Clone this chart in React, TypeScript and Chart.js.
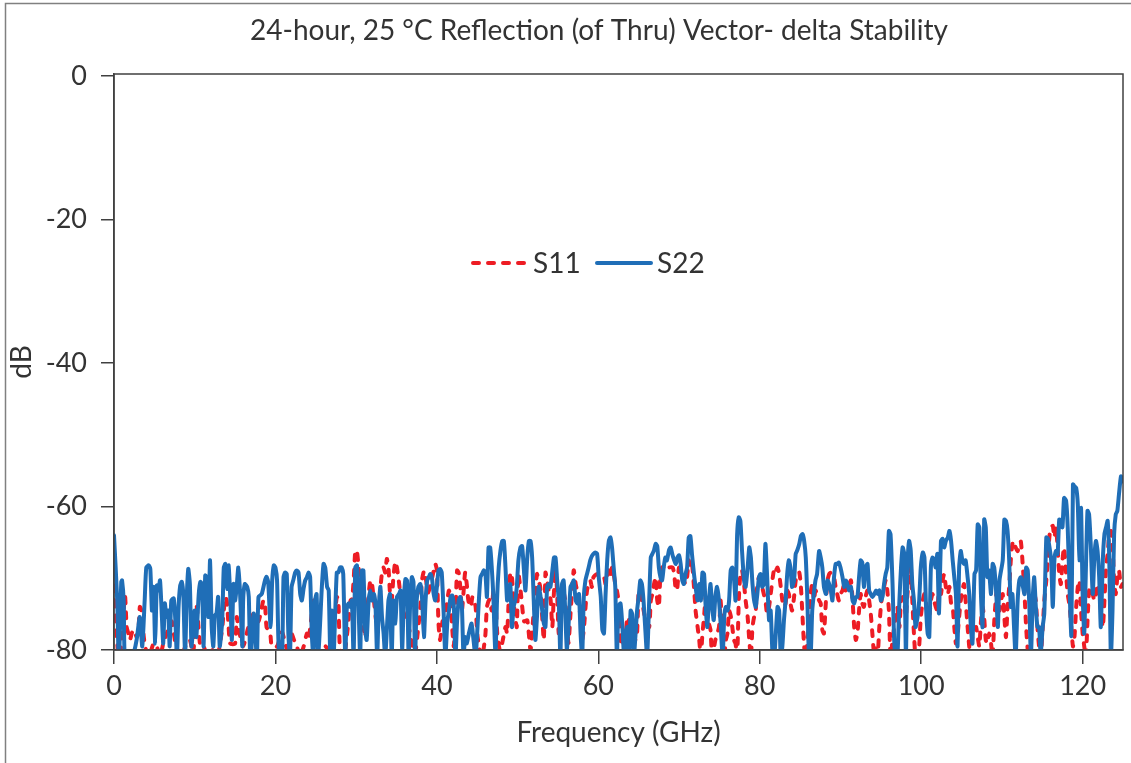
import React, { useEffect, useRef } from "react";
import { Chart, registerables } from "chart.js";

Chart.register(...registerables);

const FONT = "Lato, 'Open Sans', sans-serif";
const TITLE = "24-hour, 25 °C Reflection (of Thru) Vector- delta Stability";
const X_TITLE = "Frequency (GHz)";
const Y_TITLE = "dB";
const X_TICKS = [0, 20, 40, 60, 80, 100, 120];
const Y_TICKS = [-80, -60, -40, -20, 0];
const SERIES_NAMES = ["S11", "S22"];

// S22 (blue, solid)
const s22Freq = [
  0.0, 0.4, 0.6, 0.9, 1.0, 1.2, 1.4, 2.4, 2.8, 3.2, 3.5, 3.8, 4.0, 4.3, 4.5, 4.7, 4.9, 5.1, 5.3, 5.5, 5.7, 5.9, 6.1, 6.3, 6.5, 6.7, 6.9, 7.1, 7.4, 7.6, 7.8, 8.0, 8.2, 8.4, 8.6, 8.8, 9.0, 9.2, 9.4, 9.6, 9.8, 10.0, 10.2, 10.5, 10.7, 10.9, 11.1, 11.3, 11.5, 11.7, 11.9, 12.1, 12.3, 12.5, 12.7, 12.9, 13.1, 13.4, 13.6, 13.8, 14.0, 14.2, 14.4, 14.6, 14.8, 15.0, 15.2, 15.4, 15.6, 15.9, 16.0, 16.2, 16.5, 16.7, 16.9, 17.3, 17.7, 17.9, 18.3, 18.7, 18.9, 19.1, 19.4, 19.6, 19.8, 20.0, 20.2, 20.4,
  20.8, 21.0, 21.2, 21.4, 21.6, 21.8, 22.0, 22.2, 22.45, 22.65, 22.86, 23.07, 23.27, 23.48, 23.69, 23.9, 24.1, 24.3, 24.5, 24.7, 24.9, 25.1, 25.3, 25.75, 25.96, 26.17, 26.4, 26.6, 26.8, 27.0, 27.2, 27.4, 27.6, 27.8, 28.0, 28.2, 28.4, 28.65, 28.85, 29.06, 29.27, 29.47, 29.68, 29.89, 30.1, 30.3, 30.5, 30.7, 30.9, 31.1, 31.3, 31.55, 31.75, 31.96, 32.2, 32.4, 32.6, 32.8, 33.0, 33.2, 33.4, 33.6, 34.0, 34.2, 34.4, 34.6, 34.85, 35.05, 35.3, 35.5, 35.7, 35.9, 36.1, 36.3, 36.5, 36.7, 36.9, 37.1, 37.3, 37.5, 37.7, 37.95, 38.15, 38.4, 38.6, 38.8, 39.0, 39.2, 39.4, 39.6, 39.8, 40.0, 40.2, 40.4, 40.6, 40.84,
  41.05, 41.3, 41.5, 41.7, 41.9, 42.1, 42.3, 42.5, 42.7, 42.9, 43.1, 43.3, 43.5, 43.7, 44.0, 44.3, 44.5, 44.8, 45.2, 45.4, 45.6, 45.8, 46.0, 46.2, 46.4, 46.6, 46.8, 47.0, 47.25, 47.45, 47.66, 47.87, 48.1, 48.3, 48.5, 48.7, 48.9, 49.1, 49.3, 49.5, 49.7, 49.9, 50.1, 50.35, 50.56, 50.76, 50.97, 51.2, 51.4, 51.6, 51.8, 52.0, 52.2, 52.4, 52.6, 52.8, 53.0, 53.25, 53.45, 53.66, 53.87, 54.07, 54.5, 54.7, 54.9, 55.1, 55.3, 55.5, 55.7, 55.9, 56.1, 56.3, 56.55, 56.75, 56.95, 57.2, 57.4, 57.6, 57.8, 58.0, 58.2, 58.4, 58.6, 58.8, 59.0, 59.2, 59.4, 59.6, 59.85, 60.05, 60.3, 60.5, 60.7, 60.9, 61.1, 61.3, 61.5,
  61.7, 61.9, 62.1, 62.3, 62.5, 62.75, 62.96, 63.2, 63.4, 63.6, 63.8, 64.0, 64.2, 64.4, 64.6, 64.8, 65.0, 65.2, 65.4, 65.6, 65.85, 66.05, 66.3, 66.5, 66.7, 66.9, 67.1, 67.3, 67.5, 67.7, 67.9, 68.1, 68.3, 68.5, 68.75, 68.96, 69.2, 69.4, 69.6, 69.8, 70.0, 70.2, 70.4, 70.6, 70.8, 71.0, 71.2, 71.4, 71.6, 71.85, 72.05, 72.3, 72.5, 72.7, 72.9, 73.1, 73.3, 73.5, 73.7, 73.9, 74.1, 74.3, 74.5, 74.7, 74.95, 75.15, 75.4, 75.6, 75.8, 76.0, 76.2, 76.4, 76.6, 76.8, 77.0, 77.2, 77.4, 77.6, 77.8, 78.05, 78.25, 78.5, 78.7, 78.9, 79.1, 79.3, 79.5, 79.7, 79.9, 80.1, 80.3, 80.5, 80.7, 80.9, 81.15, 81.35, 81.6, 81.8,
  82.2, 82.4, 82.6, 82.8, 83.0, 83.2, 83.4, 83.6, 83.8, 84.0, 84.25, 84.45, 84.65, 84.9, 85.1, 85.3, 85.5, 85.7, 85.9, 86.1, 86.3, 86.5, 86.7, 86.9, 87.1, 87.35, 87.55, 87.75, 87.95, 88.2, 88.4, 88.6, 88.8, 89.0, 89.2, 89.4, 89.6, 89.8, 90.0, 90.25, 90.45, 90.65, 90.85, 91.05, 91.3, 91.5, 91.7, 91.9, 92.1, 92.3, 92.5, 92.7, 92.9, 93.1, 93.35, 93.55, 93.75, 93.95, 94.2, 94.4, 94.6, 94.8, 95.0, 95.2, 95.4, 95.6, 95.8, 96.0, 96.2, 96.45, 96.65, 96.85, 97.05, 97.3, 97.5, 97.7, 97.9, 98.1, 98.3, 98.5, 98.7, 98.9, 99.1, 99.3, 99.55, 99.75, 99.95, 100.2, 100.4, 100.6, 100.8, 101.0, 101.2, 101.4, 101.6, 101.8, 102.0, 102.2,
  102.45, 102.65, 102.85, 103.05, 103.3, 103.5, 103.7, 103.9, 104.1, 104.3, 104.5, 104.7, 104.9, 105.1, 105.3, 105.5, 105.75, 105.95, 106.15, 106.35, 106.6, 106.8, 107.0, 107.2, 107.4, 107.6, 107.8, 108.0, 108.2, 108.4, 108.65, 108.85, 109.05, 109.3, 109.5, 109.7, 110.1, 110.3, 110.5, 110.7, 110.9, 111.1, 111.3, 111.5, 111.7, 111.95, 112.15, 112.35, 112.6, 112.8, 113.0, 113.2, 113.4, 113.6, 113.8, 114.0, 114.2, 114.4, 114.6, 114.8, 115.05, 115.25, 115.5, 115.7, 115.9, 116.1, 116.3, 116.5, 116.7, 116.9, 117.1, 117.3, 117.5, 117.7, 117.95, 118.15, 118.4, 118.6, 118.8, 119.0, 119.2, 119.4, 119.6, 119.8, 120.0, 120.2, 120.4, 120.6, 120.8, 121.0, 121.25, 121.45, 121.65, 121.85, 122.05, 122.25, 122.5, 122.7, 122.9, 123.1, 123.3, 123.5, 123.7, 123.9, 124.1, 124.3, 124.5, 124.75, 124.95,
];
const s22Db = [
  -64.0, -73.1, -82, -70.5, -70.3, -73.1, -82, -80.5, -78.6, -75.4, -79.5, -73.1, -68.5, -68.2, -68.7, -74.5, -71.2, -79.1, -71.0, -71.7, -70.3, -74.5, -79.1, -73.5, -75.4, -74.5, -79.5, -73.1, -72.8, -75.9, -81, -74.0, -71.0, -70.5, -72.6, -81, -73.1, -68.7, -70.8, -79.5, -76.8, -74.5, -78.2, -72.2, -70.5, -70.8, -79.5, -69.6, -69.9, -75.4, -67.5, -76.8, -79.5, -75.2, -74.9, -72.6, -79.5, -76, -68.5, -68, -71.5, -68.2, -72.6, -78.6, -70.8, -73.1, -71.2, -68.5, -71.7, -79.5, -73.1, -70.8, -71.2, -72.6, -82, -74.9, -81, -72.6, -72.2, -70.3, -69.8, -70.5, -76.8, -70.3, -68.2, -68.5, -70.3, -79.5,
  -82, -69.85, -69.2, -69.4, -77.7, -81, -71.2, -70.3, -69.2, -68.9, -69.2, -72.2, -73.1, -71.5, -70.3, -69.85, -69.2, -69.85, -77.7, -81, -73.1, -72.2, -81, -71.2, -68.0, -68.5, -71.2, -71.7, -81, -74.5, -81, -74.9, -69.2, -69.2, -68.5, -68.5, -69.4, -81, -74.0, -73.5, -74, -73.1, -81, -68.5, -68.2, -74, -81, -68.9, -68.9, -76.8, -78.6, -73.1, -71.7, -73.1, -72.2, -74, -81, -74, -71.2, -75.4, -77.7, -81, -73.1, -72.2, -81, -73.1, -76.3, -72.6, -72.2, -71.7, -80, -73.1, -70.1, -70.3, -81, -73.1, -69.85, -70.5, -81, -73.1, -71.2, -70.8, -72.6, -78.2, -73.1, -70.3, -69.85, -69.4, -70.1, -72.2, -73.1, -71.2, -68.9, -68.7, -69.2, -74.9,
  -81, -76, -74.5, -72.6, -72.4, -74, -81, -76, -73.1, -72.6, -74, -81, -78.2, -79.1, -77.5, -76.3, -78.2, -81, -73.1, -69.85, -69.4, -68.9, -69.2, -72.6, -65.7, -65.7, -68.5, -72.6, -81, -73.1, -68.5, -66.2, -64.8, -64.8, -68.5, -73.1, -71.2, -70.8, -76.8, -74, -73.1, -71.2, -67.5, -65.7, -65.5, -68.5, -71.7, -67.1, -64.8, -64.8, -67.1, -73.1, -78.6, -75.4, -71.2, -72.2, -74, -76.3, -76.8, -71.2, -70.8, -71.2, -67.1, -67.1, -70.3, -73.1, -81, -70.8, -70.3, -74.5, -80, -76.8, -71.2, -70.8, -70.3, -73.1, -73.5, -72.2, -77.7, -81, -72.6, -70.3, -69.4, -68.5, -67.5, -66.9, -66.6, -66.4, -66.6, -69.85, -72.6, -77.2, -77.7, -72.2, -67.5, -64.8, -64.3,
  -65.7, -68.5, -71.2, -81, -74, -73.5, -76.3, -81, -77.7, -76.8, -81, -74.5, -75, -81, -78, -74.5, -72.6, -70.3, -70.8, -73.1, -77.7, -81, -73.1, -67.1, -66.6, -66.1, -65.2, -65.5, -68.5, -69.85, -70.3, -68.5, -67.1, -67.5, -66.1, -65.7, -66.8, -67.5, -68.0, -67.1, -66.8, -68.0, -70.3, -70.8, -69.4, -68.5, -64.3, -64.1, -66.6, -69.4, -71.2, -73.1, -70.8, -73.1, -69.2, -69.4, -74, -76.8, -73.1, -70.8, -74, -75.85, -72.6, -71.2, -73.1, -76.3, -81, -75.4, -74, -74.5, -73.1, -68.9, -68.5, -69.85, -73.1, -63.85, -61.5, -62.0, -66.1, -70.3, -71.2, -68.5, -65.7, -67.1, -70.8, -73.1, -74, -72.2, -69.85, -69.4, -71.2, -70.8, -65.2, -69.4, -75.85, -74.5, -81, -81,
  -74, -74.5, -81, -79.5, -75.8, -73.1, -69.4, -67.5, -68.5, -71.2, -70.3, -66.6, -66.1, -65.2, -64.1, -63.85, -64.8, -67.1, -73.1, -81, -81, -74.5, -72.2, -70.3, -69.4, -66.2, -67.1, -68.5, -71.2, -72.2, -70.3, -70.8, -71.7, -73.1, -69.85, -68.0, -68.0, -67.8, -68.5, -69.85, -71.2, -70.3, -70.8, -71.7, -71.2, -73.1, -73.5, -72.6, -72.6, -69.85, -67.5, -67.8, -71.2, -68.5, -68.0, -71.7, -72.2, -72.6, -72.2, -71.7, -72.2, -71.7, -73.1, -72.6, -70.8, -69.4, -68.5, -63.4, -63.85, -70.8, -78.6, -81, -81, -73.1, -68.5, -65.7, -66.6, -81, -68.5, -64.8, -66.1, -70.8, -73.1, -76.8, -75.4, -73.1, -68.5, -66.4, -67.1, -74, -77.7, -78.2, -68.5, -67.1, -67.5, -68.5, -66.6, -74.9,
  -64.8, -64.5, -65.7, -64.8, -64.3, -63.4, -64.8, -67.5, -69.85, -72.2, -79.5, -68.5, -66.2, -67.5, -68.0, -67.5, -69.85, -72.2, -76.8, -79.1, -69.4, -68.9, -62.5, -62.9, -72.2, -76.8, -61.8, -62.9, -69.85, -68.9, -72.2, -68.0, -68.5, -72.2, -76.8, -70.3, -67.5, -61.8, -62.0, -63.4, -67.5, -74, -72.2, -76.8, -81, -73.1, -70.3, -69.85, -71.2, -72.2, -68.5, -68.9, -74, -81, -73.1, -69.85, -74, -76.8, -76.8, -80.5, -76.8, -74.9, -64.3, -64.5, -65.7, -67.5, -74, -67.5, -66.2, -66.6, -61.8, -62.0, -62.9, -58.8, -59.2, -62.9, -72.2, -78, -56.9, -57.2, -57.4, -59.7, -67.5, -60.2, -72.2, -77.7, -68.9, -60.6, -61.1, -65.2, -72.2, -67.1, -64.8, -66.2, -69.85, -76.8, -67.5, -63.85, -62.9, -62.0, -67.5, -81, -74.5, -63.85, -61.1, -60.6, -58.3, -55.8, -56.5,
];

// S11 (red, dashed)
const s11Freq = [
  0.0, 0.3, 0.6, 1.0, 1.36, 1.57, 1.78, 1.98, 2.19, 2.4, 2.6, 2.8, 3.0, 3.2, 3.4, 3.6, 3.85, 4.3, 4.9, 5.3, 5.7, 6.1, 6.6, 7.15, 7.6, 8.2, 9.0, 9.4, 9.8, 10.25, 10.4, 10.7, 11.1, 11.6, 12.2, 12.8, 13.4, 13.77, 13.97, 14.2, 14.4, 15.0, 15.2, 15.4, 16.0, 16.6, 17.3, 17.9, 18.5, 18.7, 18.9, 19.35, 19.55, 20.2,
  20.8, 21.2, 21.6, 21.8, 22.0, 22.3, 22.6, 23.0, 23.5, 23.9, 24.1, 24.4, 24.7, 24.9, 25.2, 25.6, 26.2, 26.8, 27.3, 27.6, 27.8, 28.0, 28.5, 29.0, 29.3, 29.5, 29.7, 29.9, 30.1, 30.3, 30.5, 30.7, 30.9, 31.1, 31.4, 31.75, 31.96, 32.2, 32.5, 32.8, 33.0, 33.2, 33.4, 33.6, 33.8, 34.0, 34.2, 34.4, 34.6, 34.85, 35.05, 35.3, 35.5, 35.8, 36.1, 36.5, 36.9, 37.3, 37.7, 37.95, 38.15, 38.4, 38.6, 38.9, 39.2, 39.5, 39.8, 40.0, 40.2, 40.4, 40.7,
  40.85, 41.05, 41.3, 41.5, 41.7, 41.9, 42.1, 42.3, 42.5, 42.7, 42.9, 43.1, 43.3, 43.5, 43.7, 43.9, 44.2, 44.4, 44.6, 44.8, 45.0, 45.3, 45.6, 46.0, 46.2, 46.5, 46.8, 47.0, 47.25, 47.5, 47.8, 48.1, 48.5, 48.7, 48.9, 49.1, 49.3, 49.5, 49.7, 49.9, 50.1, 50.4, 50.8, 51.2, 51.6, 51.9, 52.2, 52.4, 52.6, 52.8, 53.0, 53.25, 53.45, 53.66, 53.9, 54.1, 54.3, 54.5, 54.7, 54.9, 55.1, 55.4, 55.5, 55.9, 56.3, 56.55, 56.95, 57.2, 57.6, 58.0, 58.2, 58.6, 59.0, 59.2, 59.4, 59.85, 60.3, 60.7, 60.9, 61.3, 61.5,
  61.7, 61.9, 62.1, 62.3, 62.5, 62.75, 62.96, 63.2, 63.4, 63.6, 63.8, 64.2, 64.6, 64.8, 65.0, 65.2, 65.4, 65.85, 66.3, 66.5, 66.7, 66.9, 67.1, 67.3, 67.5, 67.7, 67.9, 68.1, 68.3, 68.75, 69.2, 69.4, 69.6, 69.8, 70.0, 70.4, 70.6, 70.8, 71.0, 71.2, 71.4, 71.6, 71.85, 72.05, 72.3, 72.5, 72.7, 72.9, 73.1, 73.3, 73.5, 73.7, 73.9, 74.1, 74.5, 74.95, 75.15, 75.4, 75.6, 75.8, 76.0, 76.2, 76.4, 76.6, 76.8, 77.0, 77.2, 77.4, 77.6, 77.8, 78.05, 78.25, 78.5, 78.7, 78.9, 79.1, 79.3, 79.5, 79.7, 79.9, 80.1, 80.3, 80.5, 80.7, 80.9, 81.15, 81.35, 81.8, 82.0,
  82.2, 82.4, 82.6, 82.8, 83.0, 83.2, 83.4, 83.6, 83.8, 84.0, 84.25, 84.45, 84.65, 84.9, 85.1, 85.3, 85.5, 85.7, 85.9, 86.1, 86.3, 86.5, 86.7, 86.9, 87.1, 87.35, 87.55, 87.75, 87.95, 88.2, 88.4, 88.6, 88.8, 89.0, 89.2, 89.4, 89.6, 89.8, 90.0, 90.25, 90.45, 90.65, 90.85, 91.05, 91.3, 91.5, 91.7, 91.9, 92.1, 92.3, 92.5, 92.7, 92.9, 93.1, 93.35, 93.55, 93.75, 93.95, 94.2, 94.4, 94.6, 94.8, 95.0, 95.2, 95.4, 95.6, 95.8, 96.0, 96.2, 96.45, 96.65, 96.85, 97.05, 97.3, 97.5, 97.7, 97.9, 98.1, 98.3, 98.5, 98.7, 98.9, 99.1, 99.3, 99.55, 99.75, 99.95, 100.2, 100.4, 100.6, 100.8, 101.0, 101.2, 101.4, 101.6, 101.8, 102.0, 102.2,
  102.45, 102.65, 102.85, 103.05, 103.3, 103.5, 103.7, 103.9, 104.1, 104.3, 104.5, 104.7, 104.9, 105.1, 105.3, 105.5, 105.75, 105.95, 106.15, 106.35, 106.6, 106.8, 107.0, 107.2, 107.4, 107.6, 107.8, 108.0, 108.2, 108.4, 108.65, 108.85, 109.05, 109.3, 109.5, 109.7, 109.9, 110.1, 110.3, 110.5, 110.7, 110.9, 111.1, 111.3, 111.5, 111.7, 111.95, 112.15, 112.35, 112.6, 112.8, 113.0, 113.2, 113.4, 113.6, 113.8, 114.0, 114.2, 114.4, 114.6, 114.8, 115.05, 115.25, 115.5, 115.7, 115.9, 116.1, 116.3, 116.5, 116.7, 116.9, 117.1, 117.3, 117.5, 117.7, 117.95, 118.15, 118.4, 118.6, 118.8, 119.0, 119.2, 119.4, 119.6, 119.8, 120.0, 120.2, 120.4, 120.6, 120.8, 121.0, 121.25, 121.45, 121.65, 121.85, 122.05, 122.25, 122.5, 122.7, 122.9, 123.1, 123.3, 123.5, 123.7, 123.9, 124.1, 124.3, 124.5, 124.75, 124.95,
];
const s11Db = [
  -71, -77, -82, -78, -72.4, -76.8, -77.7, -78.6, -77.7, -77.2, -77.5, -78.2, -77.7, -74.0, -74.5, -77.2, -79.5, -81, -79.1, -79.5, -81, -79.1, -77.5, -76, -79, -81, -79.1, -78.6, -80.5, -74.0, -75.8, -79.5, -79.5, -81, -80, -81, -77, -72.6, -73.1, -76.8, -79.1, -79.1, -75.4, -76.8, -79.5, -77, -74.9, -76, -73.1, -73.5, -76.8, -77.7, -79.5, -79.5,
  -77.5, -79, -80.5, -78.2, -77.7, -78.6, -79.1, -81, -79.5, -77.7, -78.6, -76, -73.1, -74.5, -79.5, -81, -79.5, -80.5, -76, -72.6, -73.1, -80, -81, -76.5, -73.1, -72.9, -70, -66.1, -66.3, -68.5, -73.5, -77, -76.8, -78.2, -74, -70.3, -70.8, -73.1, -76, -74.5, -71.5, -69.2, -68.5, -69.2, -67.3, -68.5, -72.2, -73.1, -70, -67.7, -68.5, -70.5, -72.5, -74.5, -75.4, -76.8, -79, -80.5, -76.8, -74, -70.3, -69, -69.8, -72, -71, -69.5, -68, -68.9, -76.3, -78.6, -76,
  -77, -75, -73, -71.7, -73.1, -77, -79.5, -75, -68.9, -69.2, -71.2, -74.5, -72, -69.2, -70.8, -73.1, -74, -72.6, -73.1, -74, -77.7, -80, -81, -78, -74, -73, -74.5, -71.7, -73.1, -78, -80, -79, -76.8, -77.7, -73, -69.2, -69.85, -73.1, -75.4, -76.8, -69.4, -72, -76, -75.85, -80, -76, -72, -69.4, -70.3, -71.2, -74.5, -78.6, -69.2, -70.3, -72, -73.1, -76.8, -72, -68.5, -72.2, -77.7, -75, -71, -73.1, -79, -75, -68.9, -70.8, -73.1, -78.6, -77.2, -71.7, -70.3, -71.2, -69.85, -69.4, -69.85, -69.85, -70.8, -68.9, -69.85,
  -68.5, -69.4, -70.8, -71.7, -73.1, -78.6, -79.5, -78.6, -77.7, -75.4, -75.8, -78, -78.6, -77.7, -71.7, -72.2, -73.1, -75.85, -76.8, -73.1, -72.2, -70.8, -69.85, -73.1, -74, -69.4, -68.5, -68.5, -68.9, -68.5, -68.5, -69.4, -71.7, -71.2, -68.5, -69.4, -70.3, -70.8, -69.85, -67.5, -68.5, -68.0, -71.2, -74.5, -76.8, -78.6, -81, -77.7, -75.4, -72.6, -74.5, -76.3, -77.2, -81, -78.6, -76.8, -73.1, -78.6, -81, -78.6, -77.7, -74.5, -75.2, -76.8, -78.6, -79.1, -81, -73.1, -69.4, -68.9, -70.8, -73.1, -75.4, -78.6, -81, -76.8, -75.4, -74.5, -70.8, -69.85, -70.3, -71.2, -72.2, -73.1, -74.9, -74, -72.2, -68.5, -68.9,
  -68.5, -69.4, -71.2, -73.1, -74, -73.5, -71.7, -72.2, -73.5, -74.5, -72.6, -70.3, -69.4, -69.2, -71.2, -75.4, -79.5, -81, -78.6, -76.3, -72.2, -70.8, -73.1, -71.7, -72.2, -73.1, -73.5, -77.2, -77.7, -73.1, -70.3, -69.4, -69.2, -69.4, -69.85, -71.2, -72.2, -73.1, -72.2, -71.7, -70.8, -71.7, -70.3, -70.8, -70.3, -73.1, -76.8, -78.6, -77.7, -74.5, -72.2, -73.5, -74, -72.6, -71.7, -73.1, -74.9, -77.7, -81, -79.5, -81, -77, -74, -72.2, -71.2, -70.3, -71.7, -74.5, -81, -78.6, -76.8, -75.4, -74, -76.8, -73.1, -72.6, -73.1, -75.4, -72.2, -70.3, -68.5, -73.1, -77.7, -81, -81, -79.5, -75.4, -73.1, -72.2, -73.5, -76.3, -75.4, -73.1, -72.2, -73.1, -74, -74.5, -71.7,
  -72.2, -70.3, -69.4, -71.2, -72.2, -71.2, -73.5, -74, -76.8, -79.1, -78, -75.4, -73.1, -71.7, -70.8, -73.1, -76.8, -79.5, -81, -78, -77, -76.8, -78.2, -79.5, -76, -74, -75.5, -78.6, -79.1, -77.7, -79.1, -81, -76, -72.2, -71.2, -74.5, -73.1, -72.2, -75.4, -78.2, -74, -71.2, -67.5, -65.2, -64.8, -65.7, -66.2, -65.2, -64.9, -68.5, -72.2, -76.8, -80, -81, -77.7, -74, -72.2, -73.1, -76.8, -79.5, -81, -77, -73.1, -70.3, -67.1, -64, -62.9, -62.7, -64.3, -62.9, -65.7, -69.4, -70.8, -67.5, -65.7, -69.4, -72.2, -74, -76.8, -79.5, -78, -74, -71.2, -70.3, -74.5, -77.7, -79.5, -81, -76, -71.7, -71.2, -72.2, -73.1, -72.2, -70.8, -71.7, -74.5, -76.8, -73.1, -68.5, -66.6, -63.9, -63.4, -65.2, -70.3, -72.2, -69.85, -68.9, -71.2, -70.8,
];

const RED = "#ED1C24";
const BLUE = "#1F6EB7";
const TEXT = "#333333";
const AXIS = "#404040";

const zip = (xs: number[], ys: number[]) => xs.map((x, i) => ({ x, y: ys[i] }));

const decorPlugin = {
  id: "decor",
  beforeDraw(chart: any) {
    const ctx = chart.ctx;
    ctx.save();
    ctx.fillStyle = "#ffffff";
    ctx.fillRect(0, 0, chart.width, chart.height);
    ctx.restore();
  },
  afterDraw(chart: any) {
    const ctx = chart.ctx;
    const a = chart.chartArea;
    ctx.save();
    // outer frame
    ctx.strokeStyle = "#808080";
    ctx.lineWidth = 1.5;
    ctx.strokeRect(5.5, 3.5, chart.width + 20, chart.height + 20);
    // plot frame
    ctx.strokeStyle = AXIS;
    ctx.lineWidth = 1.5;
    ctx.strokeRect(a.left, a.top, a.right - a.left, a.bottom - a.top);
    // title
    ctx.fillStyle = TEXT;
    ctx.font = `28px ${FONT}`;
    ctx.textAlign = "center";
    ctx.textBaseline = "middle";
    ctx.fillText(TITLE, 599, 31);
    // legend
    const ly = 263;
    ctx.lineCap = "round";
    ctx.lineWidth = 4;
    ctx.strokeStyle = RED;
    ctx.setLineDash([6, 9]);
    ctx.beginPath();
    ctx.moveTo(473, ly);
    ctx.lineTo(528, ly);
    ctx.stroke();
    ctx.setLineDash([]);
    ctx.strokeStyle = BLUE;
    ctx.beginPath();
    ctx.moveTo(597, ly);
    ctx.lineTo(651, ly);
    ctx.stroke();
    ctx.textAlign = "left";
    ctx.fillStyle = TEXT;
    ctx.font = `28px ${FONT}`;
    ctx.fillText(SERIES_NAMES[0], 533, ly + 1);
    ctx.fillText(SERIES_NAMES[1], 657, ly + 1);
    ctx.restore();
  },
};

export default function App() {
  const ref = useRef<HTMLCanvasElement | null>(null);
  useEffect(() => {
    if (!ref.current) return;
    const chart = new Chart(ref.current, {
      type: "line",
      data: {
        datasets: [
          {
            label: SERIES_NAMES[0],
            data: zip(s11Freq, s11Db),
            borderColor: RED,
            borderWidth: 4,
            borderDash: [6, 9],
            borderCapStyle: "round",
            borderJoinStyle: "round",
            pointRadius: 0,
            tension: 0.2,
            order: 1,
          },
          {
            label: SERIES_NAMES[1],
            data: zip(s22Freq, s22Db),
            borderColor: BLUE,
            borderWidth: 4,
            borderCapStyle: "round",
            borderJoinStyle: "round",
            pointRadius: 0,
            tension: 0.2,
            order: 0,
          },
        ],
      },
      options: {
        responsive: false,
        animation: false,
        events: [],
        layout: { padding: { left: 0, right: 8, top: 74, bottom: 0 } },
        plugins: { legend: { display: false }, tooltip: { enabled: false }, title: { display: false } },
        scales: {
          x: {
            type: "linear",
            min: 0,
            max: 125,
            afterBuildTicks: (s: any) => {
              s.ticks = X_TICKS.map((v) => ({ value: v }));
            },
            afterFit: (s: any) => {
              s.height = 113;
            },
            grid: { display: true, drawOnChartArea: false, drawTicks: true, tickLength: 14, color: AXIS, lineWidth: 1.5 },
            border: { display: true, color: AXIS, width: 1.5 },
            ticks: { color: TEXT, font: { family: FONT, size: 27 }, padding: 6, maxRotation: 0 },
            title: { display: true, text: X_TITLE, color: TEXT, font: { family: FONT, size: 28 }, padding: { top: 0, bottom: 13 } },
          },
          y: {
            type: "linear",
            min: -80,
            max: 0.3,
            afterBuildTicks: (s: any) => {
              s.ticks = Y_TICKS.map((v) => ({ value: v }));
            },
            afterFit: (s: any) => {
              s.width = 114;
            },
            grid: { display: true, drawOnChartArea: false, drawTicks: true, tickLength: 13, color: AXIS, lineWidth: 1.5 },
            border: { display: true, color: AXIS, width: 1.5 },
            ticks: { color: TEXT, font: { family: FONT, size: 27 }, padding: 14 },
            title: { display: true, text: Y_TITLE, color: TEXT, font: { family: FONT, size: 28 }, padding: { top: 5, bottom: 0 } },
          },
        },
      },
      plugins: [decorPlugin],
    });
    return () => chart.destroy();
  }, []);
  return (
    <div style={{ position: "fixed", left: 0, top: 0, width: 1131, height: 763, background: "#fff" }}>
      <canvas ref={ref} width={1131} height={763} style={{ display: "block", width: 1131, height: 763 }} />
    </div>
  );
}
